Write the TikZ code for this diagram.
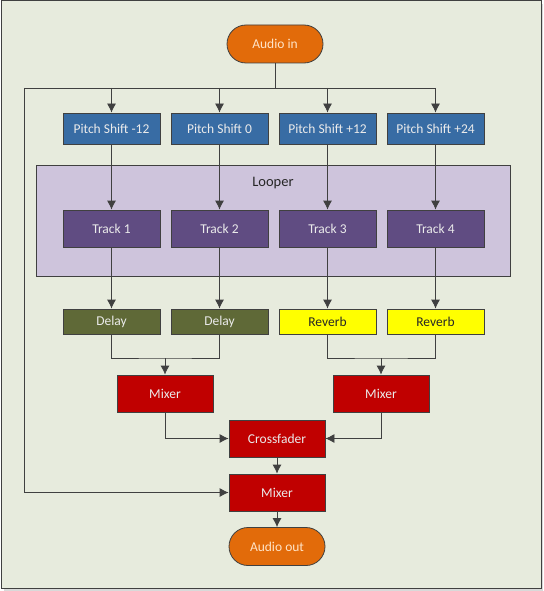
\documentclass[tikz,border=0pt]{standalone}
\usepackage{fontspec}
\setmainfont{Carlito}
\usepackage{tikz}
\usetikzlibrary{arrows,arrows.meta,calc,shapes,positioning}
\tikzset{>={Latex[length=9pt,width=9pt]}}
\definecolor{framebg}{RGB}{231,235,221}
\definecolor{framedark}{RGB}{64,64,64}
\definecolor{linegray}{RGB}{64,64,64}
\definecolor{audioorange}{RGB}{226,107,10}
\definecolor{audiotext}{RGB}{255,228,200}
\definecolor{pitchblue}{RGB}{56,108,164}
\definecolor{looperlilac}{RGB}{206,196,220}
\definecolor{trackpurple}{RGB}{96,76,130}
\definecolor{delayolive}{RGB}{95,105,55}
\definecolor{reverbyellow}{RGB}{255,255,0}
\definecolor{mixerred}{RGB}{192,0,0}
\tikzset{
  block/.style={draw=linegray, line width=0.8pt, minimum width=97pt, inner sep=0pt,
    font=\fontsize{13.5}{15}\selectfont, text=white!92!black},
  terminal/.style={block, rounded rectangle, fill=audioorange, minimum width=96pt,
    minimum height=38pt, text=audiotext},
  pitch/.style={block, fill=pitchblue, minimum height=31pt},
  track/.style={block, fill=trackpurple, minimum height=37pt},
  delay/.style={block, fill=delayolive, minimum height=25pt},
  reverb/.style={block, fill=reverbyellow, minimum height=25pt, text=black!85},
  mixer/.style={block, fill=mixerred, minimum width=96pt, minimum height=37pt},
  wire/.style={draw=linegray, line width=0.8pt}
}

\begin{document}
\begin{tikzpicture}[x=1pt,y=-1pt]
  \useasboundingbox (0,0) rectangle (543,591);
  \fill[black!15] (4,4) rectangle (543,591);
  \draw[draw=framedark, line width=1pt, fill=framebg] (1,1) rectangle (541,588);
  \node[draw=linegray, line width=0.8pt, fill=looperlilac, minimum width=474pt, minimum height=111pt] (looper) at (273.5,221) {};
  \node[font=\fontsize{14.5}{16}\selectfont, text=black!85] (looperlabel) at (273,183) {Looper};

  \node[terminal] (in) at (275,44) {Audio in};
  \foreach \i/\x/\s in {1/111.5/-12, 2/219.5/0, 3/327.5/+12, 4/435.5/+24}{
    \node[pitch] (p\i) at (\x,128.5) {Pitch Shift \s};
    \node[track] (t\i) at (\x,228.5) {Track \i};
  }
  \node[delay] (d1) at (111.5,321.5) {Delay};
  \node[delay] (d2) at (219.5,321.5) {Delay};
  \node[reverb] (d3) at (327.5,321.5) {Reverb};
  \node[reverb] (d4) at (435.5,321.5) {Reverb};
  \node[mixer] (mixa) at (165,393.5) {Mixer};
  \node[mixer] (mixb) at (381,393.5) {Mixer};
  \node[mixer] (cross) at (277,438.5) {Crossfader};
  \node[mixer] (mix) at (277,492.5) {Mixer};
  \node[terminal] (out) at (277,546.5) {Audio out};

  % splitting the input
  \coordinate (bus) at (275,88);
  \coordinate (busl) at (24,88);
  \draw[wire] (in) -- (bus);
  \draw[wire] (busl) -- (bus -| p4);
  \draw[wire,->] (busl) |- (mix);
  \foreach \i in {1,...,4}{
    \draw[wire,->] (bus -| p\i) -- (p\i);
    \draw[wire,->] (p\i) -- (t\i);
    \draw[wire,->] (t\i) -- (d\i);
  }

  % mixing down
  \coordinate (ja) at (165,358);
  \coordinate (jb) at (381,358);
  \draw[wire] (d1) |- (ja) -| (d2);
  \draw[wire] (d3) |- (jb) -| (d4);
  \draw[wire,->] (ja) -- (mixa);
  \draw[wire,->] (jb) -- (mixb);
  \draw[wire,->] (mixa) |- (cross);
  \draw[wire,->] (mixb) |- (cross);
  \draw[wire,->] (cross) -- (mix);
  \draw[wire,->] (mix) -- (out);
\end{tikzpicture}
\end{document}
